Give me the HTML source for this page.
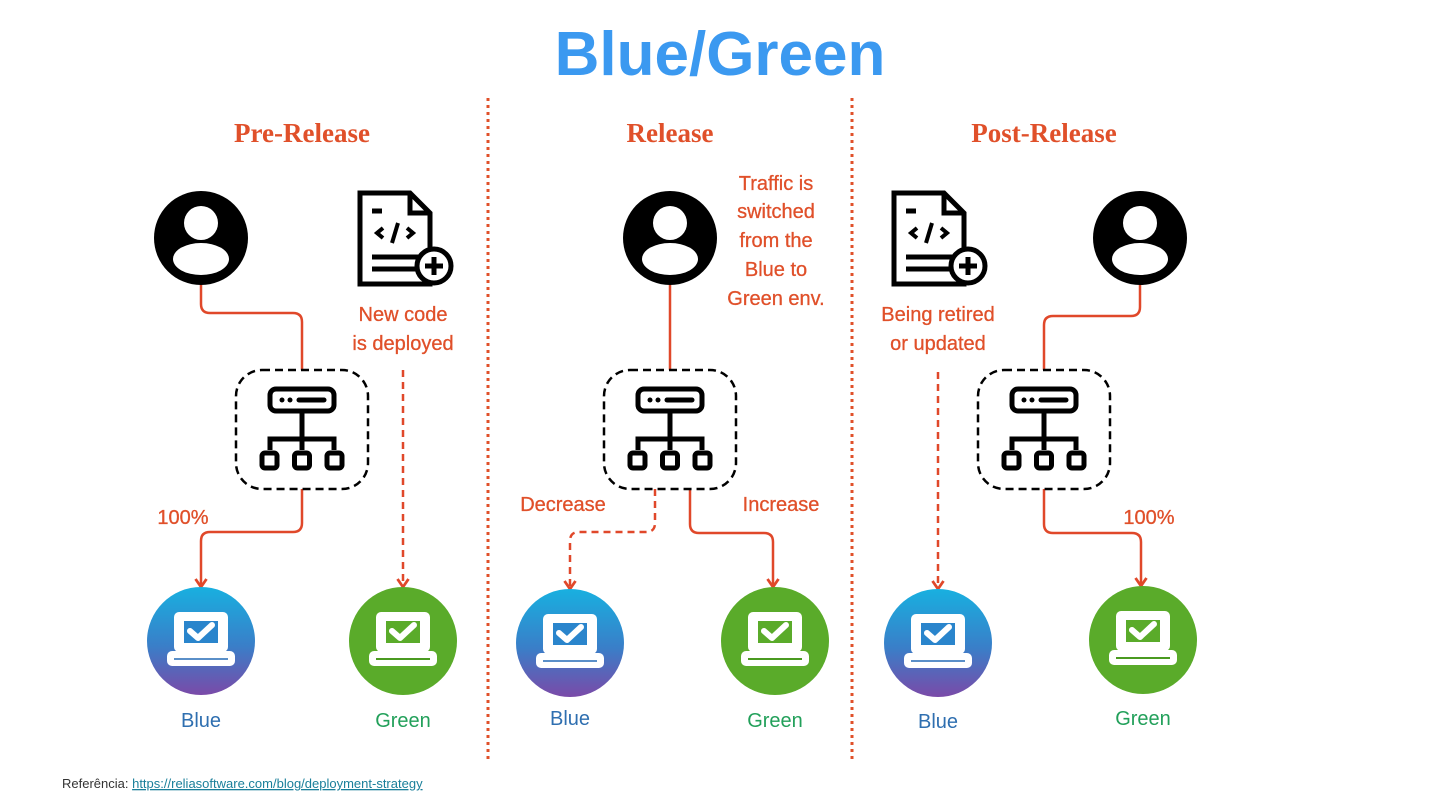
<!DOCTYPE html>
<html><head><meta charset="utf-8"><style>
html,body{margin:0;padding:0;background:#fff;width:1440px;height:810px;overflow:hidden}
</style></head><body>
<svg width="1440" height="810" viewBox="0 0 1440 810" xmlns="http://www.w3.org/2000/svg" font-family="'Liberation Sans', 'DejaVu Sans', sans-serif">
<defs>
  <linearGradient id="bg" x1="0" y1="0" x2="0" y2="1">
    <stop offset="0" stop-color="#18b0e0"/><stop offset="0.55" stop-color="#3a7ec8"/><stop offset="1" stop-color="#7a4aa8"/>
  </linearGradient>
  <clipPath id="uc"><circle cx="0" cy="0" r="44"/></clipPath>
  <g id="user">
    <circle r="47" fill="#000"/>
    <circle cx="0" cy="-15" r="17" fill="#fff"/>
    <ellipse cx="0" cy="21" rx="28" ry="16" fill="#fff" clip-path="url(#uc)"/>
  </g>
  <g id="doc" fill="none" stroke="#000" stroke-width="5">
    <path d="M2,2 H52 L72,22 V93 H2 Z" stroke-linejoin="miter"/>
    <path d="M52,2 V22 H72"/>
    <line x1="14" y1="20" x2="24" y2="20"/>
    <path d="M25,37 L19,42 L25,47 M49,37 L55,42 L49,47" stroke-width="4"/>
    <line x1="40" y1="32" x2="34" y2="52" stroke-width="4"/>
    <line x1="14" y1="66" x2="60" y2="66"/>
    <line x1="14" y1="78" x2="60" y2="78"/>
    <circle cx="76" cy="75" r="17" fill="#fff" stroke-width="5"/>
    <path d="M76,66 V84 M67,75 H85" stroke-width="5"/>
  </g>
  <g id="lb">
    <rect x="-66" y="-60" width="132" height="119" rx="26" fill="none" stroke="#000" stroke-width="2.5" stroke-dasharray="8,5"/>
    <g fill="none" stroke="#000" stroke-width="5">
      <rect x="-32" y="-41" width="64" height="22" rx="6"/>
      <line x1="0" y1="-19" x2="0" y2="9"/>
      <path d="M-32,20 V9 H32 V20 M0,9 V20"/>
      <rect x="-40" y="23" width="15" height="15" rx="3"/>
      <rect x="-7.5" y="23" width="15" height="15" rx="3"/>
      <rect x="25" y="23" width="15" height="15" rx="3"/>
    </g>
    <circle cx="-20" cy="-30" r="2.5"/><circle cx="-12" cy="-30" r="2.5"/>
    <line x1="-3" y1="-30" x2="22" y2="-30" stroke="#000" stroke-width="5" stroke-linecap="round"/>
  </g>
  <g id="laptop">
    <rect x="-27" y="-29" width="54" height="40" rx="5" fill="#fff"/>
    <rect x="-34" y="10" width="68" height="15" rx="5" fill="#fff"/>
  </g>
  <marker id="ar" markerWidth="14" markerHeight="14" refX="11" refY="7" orient="auto" markerUnits="userSpaceOnUse" viewBox="0 0 14 14">
    <path d="M3,1.5 L11,7 L3,12.5" fill="none" stroke="#e0482a" stroke-width="2.8" stroke-linejoin="round"/>
  </marker>
</defs>

<text x="720" y="75" text-anchor="middle" font-size="62" font-weight="bold" fill="#3b99f0">Blue/Green</text>

<g font-family="'Liberation Serif', serif" font-weight="bold" font-size="27" fill="#e0502a" text-anchor="middle">
  <text x="302" y="142">Pre-Release</text>
  <text x="670" y="142">Release</text>
  <text x="1044" y="142">Post-Release</text>
</g>

<g stroke="#e0502a" stroke-width="3" stroke-dasharray="3,4">
  <line x1="488" y1="98" x2="488" y2="760"/>
  <line x1="852" y1="98" x2="852" y2="760"/>
</g>

<g fill="none" stroke="#e0482a" stroke-width="2.5">
  <path d="M201,285 V304 Q201,313 210,313 H293 Q302,313 302,322 V370"/>
  <path d="M302,489 V523 Q302,532 293,532 H210 Q201,532 201,541 V587" marker-end="url(#ar)"/>
  <path d="M403,370 V587" stroke-dasharray="7,5" marker-end="url(#ar)"/>
  <path d="M670,285 V370"/>
  <path d="M655,489 V523 Q655,532 646,532 H579 Q570,532 570,541 V589" stroke-dasharray="7,5" marker-end="url(#ar)"/>
  <path d="M690,489 V524 Q690,533 699,533 H764 Q773,533 773,542 V587" marker-end="url(#ar)"/>
  <path d="M1140,285 V307 Q1140,316 1131,316 H1053 Q1044,316 1044,325 V370"/>
  <path d="M938,372 V589" stroke-dasharray="7,5" marker-end="url(#ar)"/>
  <path d="M1044,489 V524 Q1044,533 1053,533 H1132 Q1141,533 1141,542 V586" marker-end="url(#ar)"/>
</g>

<use href="#user" x="201" y="238"/>
<use href="#user" x="670" y="238"/>
<use href="#user" x="1140" y="238"/>
<use href="#doc" x="358" y="191"/>
<use href="#doc" x="892" y="191"/>
<use href="#lb" x="302" y="430"/>
<use href="#lb" x="670" y="430"/>
<use href="#lb" x="1044" y="430"/>

<circle cx="201" cy="641" r="54" fill="url(#bg)"/>
<circle cx="403" cy="641" r="54" fill="#5aab2a"/>
<circle cx="570" cy="643" r="54" fill="url(#bg)"/>
<circle cx="775" cy="641" r="54" fill="#5aab2a"/>
<circle cx="938" cy="643" r="54" fill="url(#bg)"/>
<circle cx="1143" cy="640" r="54" fill="#5aab2a"/>
<g>
  <use href="#laptop" x="201" y="641"/>
  <use href="#laptop" x="403" y="641"/>
  <use href="#laptop" x="570" y="643"/>
  <use href="#laptop" x="775" y="641"/>
  <use href="#laptop" x="938" y="643"/>
  <use href="#laptop" x="1143" y="640"/>
</g>
<g>
  <rect x="184" y="621" width="34" height="22" fill="#2a85cc"/>
  <rect x="386" y="621" width="34" height="22" fill="#5aab2a"/>
  <rect x="553" y="623" width="34" height="22" fill="#2a85cc"/>
  <rect x="758" y="621" width="34" height="22" fill="#5aab2a"/>
  <rect x="921" y="623" width="34" height="22" fill="#2a85cc"/>
  <rect x="1126" y="620" width="34" height="22" fill="#5aab2a"/>
</g>
<g fill="none" stroke="#fff" stroke-width="6" stroke-linecap="round" stroke-linejoin="round">
  <path d="M190,631 l8,7 l14,-13"/>
  <path d="M392,631 l8,7 l14,-13"/>
  <path d="M559,633 l8,7 l14,-13"/>
  <path d="M764,631 l8,7 l14,-13"/>
  <path d="M927,633 l8,7 l14,-13"/>
  <path d="M1132,630 l8,7 l14,-13"/>
</g>
<g stroke="#5a8fc8" stroke-width="2">
  <line x1="174" y1="659" x2="228" y2="659"/>
  <line x1="543" y1="661" x2="597" y2="661"/>
  <line x1="911" y1="661" x2="965" y2="661"/>
</g>
<g stroke="#4a9a20" stroke-width="2">
  <line x1="376" y1="659" x2="430" y2="659"/>
  <line x1="748" y1="659" x2="802" y2="659"/>
  <line x1="1116" y1="658" x2="1170" y2="658"/>
</g>

<g font-size="20" text-anchor="middle">
  <text x="201" y="727" fill="#2f6fb0">Blue</text>
  <text x="403" y="727" fill="#22a05a">Green</text>
  <text x="570" y="725" fill="#2f6fb0">Blue</text>
  <text x="775" y="727" fill="#22a05a">Green</text>
  <text x="938" y="728" fill="#2f6fb0">Blue</text>
  <text x="1143" y="725" fill="#22a05a">Green</text>
</g>

<g font-size="20" fill="#e0502a" text-anchor="middle" stroke="#e0502a" stroke-width="0.3">
  <text x="403" y="321">New code</text>
  <text x="403" y="350">is deployed</text>
  <text x="776" y="190">Traffic is</text>
  <text x="776" y="218">switched</text>
  <text x="776" y="247">from the</text>
  <text x="776" y="276">Blue to</text>
  <text x="776" y="305">Green env.</text>
  <text x="938" y="321">Being retired</text>
  <text x="938" y="350">or updated</text>
  <text x="183" y="524">100%</text>
  <text x="1149" y="524">100%</text>
  <text x="563" y="511">Decrease</text>
  <text x="781" y="511">Increase</text>
</g>

<text x="62" y="788" font-size="13" fill="#333">Referência: <tspan fill="#1a7f9a" text-decoration="underline">https://reliasoftware.com/blog/deployment-strategy</tspan></text>
</svg>
</body></html>
